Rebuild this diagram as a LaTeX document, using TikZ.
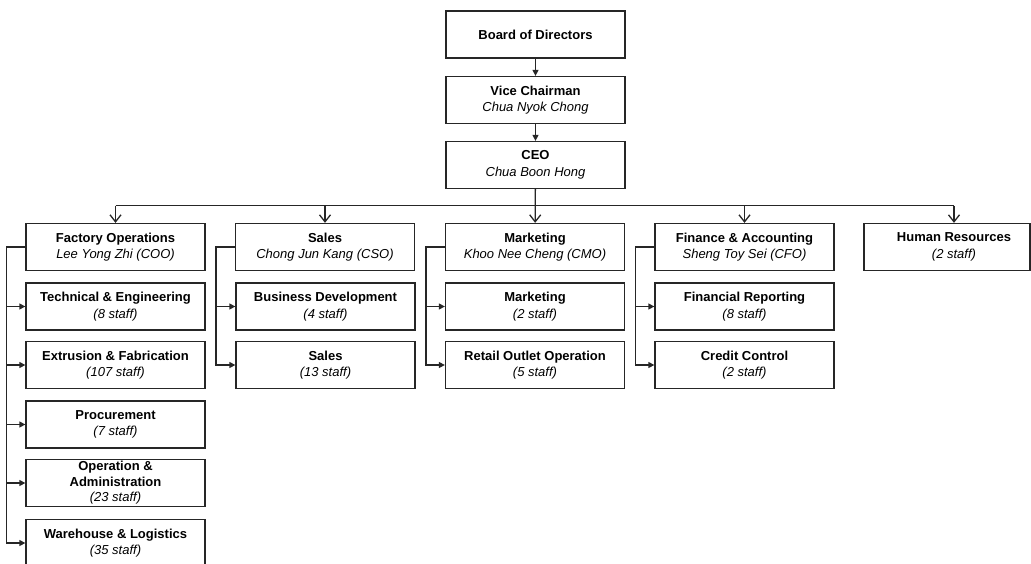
\documentclass[tikz,border=0pt]{standalone}
\usepackage{fontspec}
\setmainfont{Liberation Sans}
\usetikzlibrary{arrows.meta}
\newcommand{\staff}[1]{\textit{(#1 staff)}}
\begin{document}
\begin{tikzpicture}[x=1pt,y=-1pt,line width=1.3pt,draw=black!85,
	box/.style={draw=black!85,fill=white,minimum width=179pt,minimum height=47pt,align=center,inner sep=1pt,font=\fontsize{13}{16.5}\selectfont},
	down/.style={-{Triangle[length=6pt,width=6pt]}},
	bus/.style={-{Straight Barb[length=7pt,width=11pt]}},
	side/.style={-{Triangle[length=6pt,width=6pt]}}]
	\useasboundingbox (0,0) rectangle (1031,563);
	% top of the chart
	\node[box] (board) at (535.5,34.5) {\textbf{Board of Directors}};
	\node[box] (vice) at (535.5,100) {\textbf{Vice Chairman}\\\textit{Chua Nyok Chong}};
	\node[box] (ceo) at (535.5,165) {\textbf{CEO}\\\textit{Chua Boon Hong}};
	% heads of departments
	\node[box] (fac) at (115.5,247) {\textbf{Factory Operations}\\\textit{Lee Yong Zhi (COO)}};
	\node[box] (sal) at (325,247) {\textbf{Sales}\\\textit{Chong Jun Kang (CSO)}};
	\node[box] (mkt) at (535,247) {\textbf{Marketing}\\\textit{Khoo Nee Cheng (CMO)}};
	\node[box] (fin) at (744.5,247) {\textbf{Finance \& Accounting}\\\textit{Sheng Toy Sei (CFO)}};
	\node[box,minimum width=166pt] (hr) at (947,247) {\hspace*{14pt}\textbf{Human Resources}\\\hspace*{14pt}\staff{2}};
	% factory units
	\node[box] (fac1) at (115.5,306.5) {\textbf{Technical \& Engineering}\\\staff{8}};
	\node[box] (fac2) at (115.5,365) {\textbf{Extrusion \& Fabrication}\\\staff{107}};
	\node[box] (fac3) at (115.5,424.5) {\textbf{Procurement}\\\staff{7}};
	\node[box,font=\fontsize{13}{15.5}\selectfont] (fac4) at (115.5,483) {\textbf{Operation \&}\\\textbf{Administration}\\\staff{23}};
	\node[box] (fac5) at (115.5,543) {\textbf{Warehouse \& Logistics}\\\staff{35}};
	% sales units
	\node[box] (sal1) at (325.5,306.5) {\textbf{Business Development}\\\staff{4}};
	\node[box] (sal2) at (325.5,365) {\textbf{Sales}\\\staff{13}};
	% marketing units
	\node[box] (mkt1) at (535,306.5) {\textbf{Marketing}\\\staff{2}};
	\node[box] (mkt2) at (535,365) {\textbf{Retail Outlet Operation}\\\staff{5}};
	% finance units
	\node[box] (fin1) at (744.5,306.5) {\textbf{Financial Reporting}\\\staff{8}};
	\node[box] (fin2) at (744.5,365) {\textbf{Credit Control}\\\staff{2}};
	% connectors
	\draw[down] (board) -- (vice);
	\draw[down] (vice) -- (ceo);
	\coordinate (busl) at (115.5,205.5);
	\coordinate (busr) at (954,205.5);
	\draw (busl) -- (busr);
	\draw[bus] (busl) -- (fac.north);
	\draw[bus] (sal.north |- busl) -- (sal.north);
	\draw[bus] (ceo) -- (mkt);
	\draw[bus] (fin.north |- busl) -- (fin.north);
	\draw[bus] (busr) -- (busr |- hr.north);
	\foreach \i in {1,...,5}
		\draw[side] (fac.west) -- ++(-19,0) |- (fac\i.west);
	\foreach \d in {sal,mkt,fin}
		\foreach \i in {1,2}
			\draw[side] (\d.west) -- ++(-19,0) |- (\d\i.west);
\end{tikzpicture}
\end{document}
